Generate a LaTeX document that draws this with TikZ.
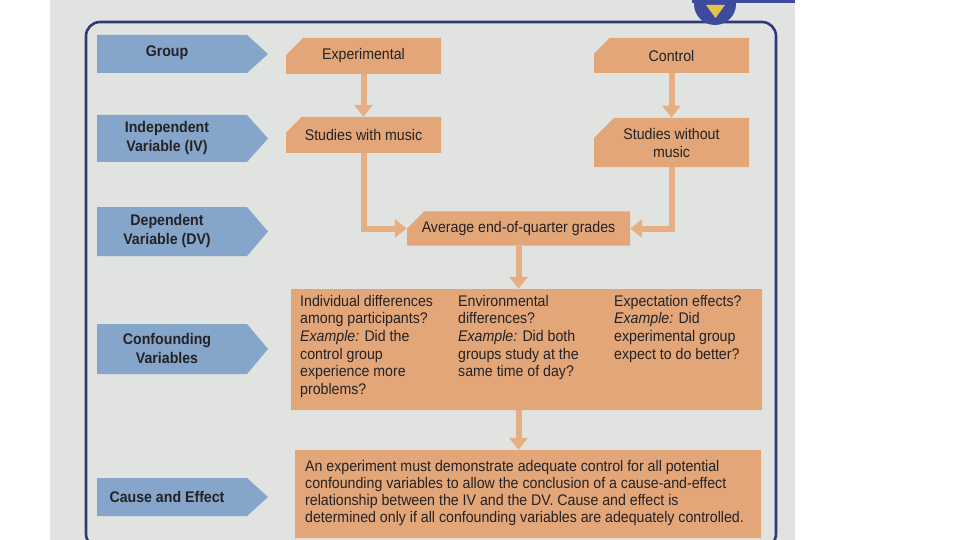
\documentclass[tikz,border=0pt]{standalone}
\usepackage{fontspec}
\setmainfont{Liberation Sans}[FakeStretch=0.92]
\usetikzlibrary{shapes.misc,arrows.meta,calc}
\definecolor{pagebg}{RGB}{224,227,224}
\definecolor{boxor}{RGB}{227,166,121}
\definecolor{arrowor}{RGB}{230,174,130}
\definecolor{tagblue}{RGB}{134,165,203}
\definecolor{inkc}{RGB}{36,34,36}
\definecolor{framec}{RGB}{48,58,122}
\definecolor{badgec}{RGB}{62,74,156}
\definecolor{badgey}{RGB}{228,196,70}
\begin{document}
\begin{tikzpicture}[x=1pt,y=-1pt,
  lbl/.style={font=\bfseries\fontsize{15.4}{19}\selectfont, text=inkc, align=center, inner sep=0pt},
  obox/.style={chamfered rectangle, chamfered rectangle corners=north west,
    chamfered rectangle xsep=10pt, chamfered rectangle ysep=10pt,
    fill=boxor, inner sep=0pt, text=inkc, align=center,
    font=\fontsize{15.4}{18}\selectfont},
  ctext/.style={text=inkc, align=left, inner sep=0pt, font=\fontsize{15.4}{17.6}\selectfont},
  conn/.style={draw=arrowor, line width=6pt, -{Triangle[width=18pt,length=12pt]}}]
\useasboundingbox (0,0) rectangle (960,540);
\clip (0,0) rectangle (960,540);
% page and frame
\fill[pagebg] (50,0) rectangle (795,540);
\fill[badgec] (692,0) rectangle (795,3);
\draw[framec, line width=2.6pt, rounded corners=14pt] (86,22) rectangle (776,548);
\fill[badgec] (715,4) circle (21pt);
\fill[badgey] (706,5) -- (725,5) -- (715.5,18) -- cycle;
% blue tags
\foreach \t/\b in {35/73,115/162,207/256,324/374,478/516}{
  \fill[tagblue] (97,\t) -- (247,\t) -- (268,{(\t+\b)/2}) -- (247,\b) -- (97,\b) -- cycle;}
\node[lbl] (lg) at (167,53) {Group};
\node[lbl] (liv) at (167,138) {Independent\\Variable (IV)};
\node[lbl] (ldv) at (167,231) {Dependent\\Variable (DV)};
\node[lbl] (lcv) at (167,348) {Confounding\\Variables};
\node[lbl] (lce) at (167,497) {Cause and Effect};
% orange boxes
\node[obox, minimum width=155pt, minimum height=36pt] (exp) at (363.5,56) {Experimental};
\node[obox, minimum width=155pt, minimum height=35pt] (ctl) at (671.5,55.5) {Control};
\node[obox, minimum width=155pt, minimum height=36pt] (swm) at (363.5,135) {Studies with music};
\node[obox, minimum width=155pt, minimum height=49pt] (swo) at (671.5,142.5) {Studies without\\music};
\node[obox, minimum width=223pt, minimum height=33pt] (avg) at (518.5,228.5) {Average end-of-quarter grades};
\node[obox, minimum width=471pt, minimum height=121pt] (conf) at (526.5,349.5) {};
\node[ctext, anchor=north west] (c1) at (300,295) {Individual differences\\among participants?\\\textit{Example:} Did the\\control group\\experience more\\problems?};
\node[ctext, anchor=north west] (c2) at (458,295) {Environmental\\differences?\\\textit{Example:} Did both\\groups study at the\\same time of day?};
\node[ctext, anchor=north west] (c3) at (614,295) {Expectation effects?\\\textit{Example:} Did\\experimental group\\expect to do better?};
\node[obox, minimum width=466pt, minimum height=88pt] (cause) at (528,494) {};
\node[ctext, anchor=west, font=\fontsize{15.4}{17}\selectfont] (ctxt) at (305,493) {An experiment must demonstrate adequate control for all potential\\confounding variables to allow the conclusion of a cause-and-effect\\relationship between the IV and the DV. Cause and effect is\\determined only if all confounding variables are adequately controlled.};
% connectors
\draw[conn] (exp.south) -- (swm.north);
\draw[conn] (ctl.south) -- (swo.north);
\draw[conn] (swm.south) |- (avg.west);
\draw[conn] (swo.south) |- (avg.east);
\draw[conn] (avg.south) -- (avg.south |- conf.north);
\draw[conn] (avg.south |- conf.south) -- (avg.south |- cause.north);
\end{tikzpicture}
\end{document}
